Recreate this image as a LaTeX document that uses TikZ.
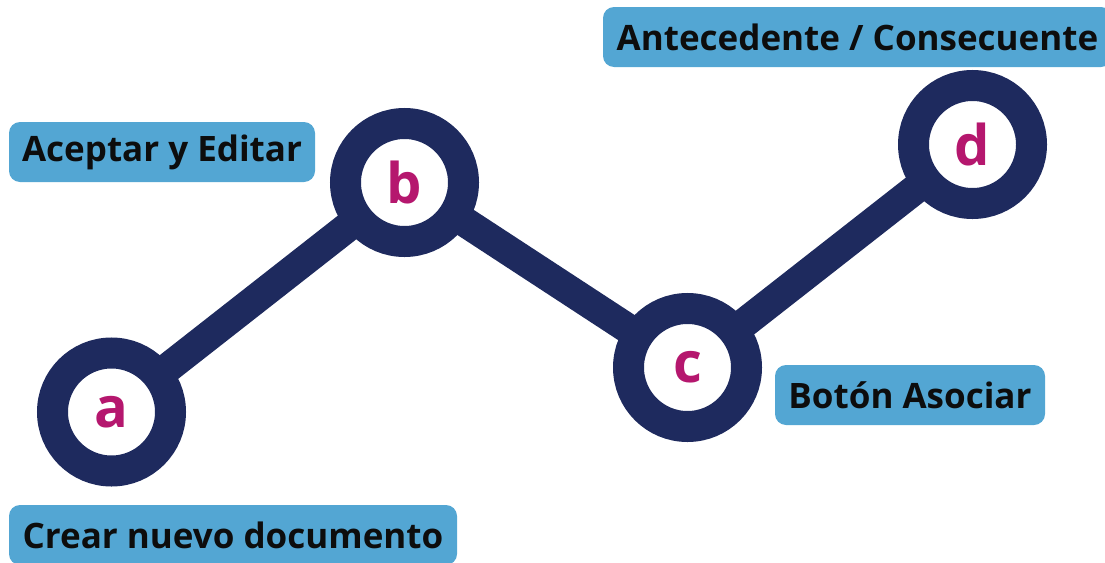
\documentclass[tikz,border=0pt]{standalone}
\usepackage{fontspec}
\setmainfont{Open Sans}
\usetikzlibrary{backgrounds}
\definecolor{navy}{RGB}{30,42,94}
\definecolor{boxblue}{RGB}{83,166,211}
\definecolor{magenta}{RGB}{181,23,110}
\begin{document}
\begin{tikzpicture}[x={(1pt,0pt)},y={(0pt,-1pt)},
  stepnode/.style={circle, draw=navy, line width=31pt, fill=white, minimum size=118pt, inner sep=0pt,
    text=magenta, font=\fontsize{56}{56}\selectfont\bfseries},
  labelbox/.style={rectangle, rounded corners=11pt, fill=boxblue, minimum height=60pt, inner sep=0pt,
    text=black!95, font=\fontsize{35}{35}\selectfont\bfseries},
  link/.style={navy, line width=30pt}]
\useasboundingbox (0,0) rectangle (1105,562);
\node[stepnode] (a) at (111.5,412) {a};
\node[stepnode] (b) at (404.5,182.5) {b};
\node[stepnode] (c) at (687.5,367.5) {c};
\node[stepnode] (d) at (972.5,144.5) {d};
\begin{scope}[on background layer]
\draw[link] (a.center) -- (b.center);
\draw[link] (b.center) -- (c.center);
\draw[link] (c.center) -- (d.center);
\end{scope}
\node[labelbox, minimum width=306pt] (la) at (162,152) {Aceptar y Editar};
\node[labelbox, minimum width=448pt] (lc) at (233,535) {Crear nuevo documento};
\node[labelbox, minimum width=509pt] (lant) at (857.5,37) {Antecedente / Consecuente};
\node[labelbox, minimum width=270pt] (lbot) at (910,395) {Botón Asociar};
\end{tikzpicture}
\end{document}
